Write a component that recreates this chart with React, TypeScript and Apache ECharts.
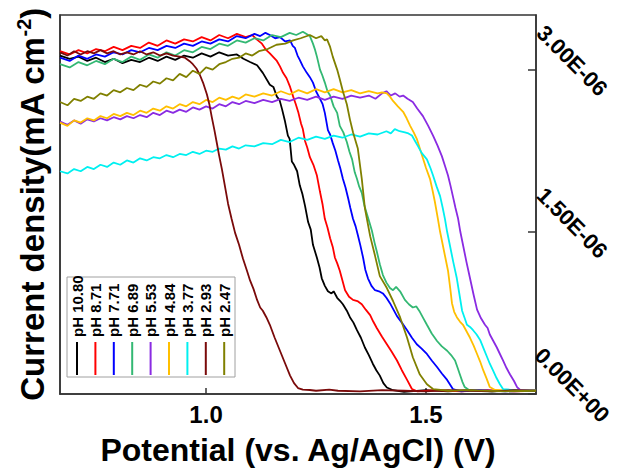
import React, { useEffect, useRef } from 'react';
import * as echarts from 'echarts';

const seriesNames = ['pH 10.80', 'pH 8.71', 'pH 7.71', 'pH 6.89', 'pH 5.53', 'pH 4.84', 'pH 3.77', 'pH 2.93', 'pH 2.47'];
const seriesColors = ['#000000', '#ff0000', '#0000ff', '#33b873', '#8a2be2', '#ffbf00', '#00f0f0', '#7a0a0a', '#808000'];

const ph1080 = [[0.668,3.13],[0.69,3.10],[0.71,3.12],[0.73,3.08],[0.75,3.11],[0.77,3.07],[0.79,3.10],[0.81,3.06],[0.83,3.09],[0.85,3.07],[0.87,3.11],[0.89,3.08],[0.91,3.12],[0.93,3.09],[0.95,3.13],[0.97,3.11],[0.99,3.15],[1.01,3.12],[1.03,3.16],[1.05,3.13],[1.07,3.14],[1.085,3.10],[1.10,3.07],[1.116,3.04],[1.129,2.97],[1.145,2.86],[1.153,2.84],[1.161,2.75],[1.167,2.72],[1.173,2.63],[1.179,2.53],[1.186,2.39],[1.19,2.36],[1.195,2.15],[1.20,2.12],[1.207,2.06],[1.213,1.93],[1.219,1.85],[1.225,1.74],[1.232,1.59],[1.238,1.52],[1.243,1.38],[1.252,1.26],[1.258,1.17],[1.263,1.07],[1.27,1.00],[1.277,0.95],[1.285,0.93],[1.29,0.95],[1.298,0.89],[1.305,0.86],[1.311,0.83],[1.32,0.77],[1.327,0.71],[1.335,0.66],[1.343,0.59],[1.352,0.52],[1.361,0.43],[1.37,0.36],[1.379,0.28],[1.387,0.22],[1.395,0.17],[1.403,0.10],[1.411,0.06],[1.425,0.035],[1.45,0.02],[1.50,0.035],[1.55,0.025],[1.60,0.035],[1.65,0.025],[1.70,0.03],[1.75,0.03]];
const ph871 = [[0.668,3.17],[0.69,3.14],[0.71,3.18],[0.73,3.15],[0.75,3.19],[0.77,3.17],[0.79,3.21],[0.81,3.18],[0.83,3.22],[0.85,3.20],[0.87,3.25],[0.89,3.22],[0.91,3.27],[0.93,3.24],[0.95,3.28],[0.97,3.26],[0.99,3.30],[1.01,3.27],[1.03,3.32],[1.05,3.29],[1.07,3.33],[1.09,3.30],[1.105,3.32],[1.115,3.28],[1.127,3.24],[1.137,3.18],[1.145,3.15],[1.161,3.08],[1.168,3.03],[1.175,2.97],[1.183,2.92],[1.191,2.84],[1.198,2.75],[1.204,2.68],[1.21,2.60],[1.216,2.50],[1.22,2.45],[1.225,2.34],[1.23,2.28],[1.236,2.19],[1.244,2.12],[1.252,2.02],[1.259,1.87],[1.265,1.75],[1.270,1.62],[1.276,1.54],[1.282,1.44],[1.288,1.36],[1.293,1.26],[1.298,1.21],[1.304,1.14],[1.31,1.05],[1.316,0.96],[1.325,0.90],[1.334,0.87],[1.344,0.86],[1.354,0.83],[1.363,0.78],[1.373,0.73],[1.38,0.67],[1.388,0.61],[1.40,0.53],[1.411,0.46],[1.422,0.39],[1.434,0.31],[1.445,0.22],[1.457,0.13],[1.468,0.046],[1.48,0.025],[1.52,0.035],[1.58,0.025],[1.64,0.035],[1.70,0.025],[1.75,0.03]];
const ph771 = [[0.668,3.11],[0.69,3.08],[0.71,3.13],[0.73,3.10],[0.75,3.14],[0.77,3.12],[0.79,3.16],[0.81,3.14],[0.83,3.18],[0.85,3.16],[0.87,3.20],[0.89,3.18],[0.91,3.22],[0.93,3.20],[0.95,3.24],[0.97,3.22],[0.99,3.26],[1.01,3.24],[1.03,3.28],[1.05,3.26],[1.07,3.31],[1.09,3.29],[1.11,3.33],[1.123,3.31],[1.135,3.34],[1.145,3.32],[1.157,3.29],[1.168,3.30],[1.18,3.26],[1.191,3.27],[1.197,3.22],[1.202,3.20],[1.208,3.13],[1.213,3.09],[1.22,3.03],[1.229,2.97],[1.236,2.93],[1.243,2.88],[1.25,2.80],[1.259,2.73],[1.265,2.68],[1.270,2.60],[1.277,2.44],[1.282,2.40],[1.288,2.32],[1.294,2.25],[1.300,2.16],[1.305,2.09],[1.311,1.99],[1.317,1.91],[1.323,1.81],[1.328,1.72],[1.334,1.62],[1.34,1.55],[1.345,1.47],[1.351,1.37],[1.357,1.26],[1.362,1.15],[1.368,1.07],[1.376,1.00],[1.384,0.96],[1.393,0.95],[1.402,0.93],[1.41,0.89],[1.418,0.84],[1.426,0.78],[1.434,0.72],[1.445,0.66],[1.457,0.59],[1.468,0.52],[1.479,0.46],[1.49,0.42],[1.502,0.37],[1.513,0.31],[1.525,0.25],[1.536,0.19],[1.548,0.13],[1.561,0.046],[1.58,0.025],[1.62,0.035],[1.68,0.025],[1.75,0.03]];
const ph689 = [[0.668,3.05],[0.69,3.02],[0.71,3.07],[0.73,3.04],[0.75,3.08],[0.77,3.05],[0.79,3.10],[0.81,3.07],[0.83,3.12],[0.85,3.09],[0.87,3.14],[0.89,3.11],[0.91,3.16],[0.93,3.13],[0.95,3.18],[0.97,3.16],[0.99,3.21],[1.01,3.19],[1.03,3.24],[1.05,3.22],[1.07,3.27],[1.09,3.25],[1.11,3.29],[1.13,3.27],[1.15,3.32],[1.17,3.30],[1.19,3.34],[1.205,3.32],[1.22,3.35],[1.236,3.31],[1.243,3.24],[1.248,3.18],[1.252,3.12],[1.259,3.00],[1.264,2.95],[1.270,2.88],[1.276,2.80],[1.282,2.76],[1.29,2.66],[1.298,2.60],[1.304,2.48],[1.312,2.42],[1.320,2.33],[1.326,2.24],[1.332,2.17],[1.338,2.05],[1.343,1.99],[1.348,1.92],[1.354,1.86],[1.36,1.74],[1.366,1.66],[1.372,1.58],[1.377,1.51],[1.383,1.40],[1.388,1.32],[1.395,1.20],[1.402,1.10],[1.41,1.03],[1.418,0.98],[1.425,0.96],[1.432,0.99],[1.441,0.95],[1.452,0.87],[1.461,0.83],[1.470,0.80],[1.478,0.81],[1.486,0.76],[1.494,0.70],[1.502,0.64],[1.513,0.56],[1.525,0.49],[1.536,0.44],[1.548,0.40],[1.557,0.36],[1.566,0.31],[1.572,0.24],[1.577,0.18],[1.583,0.11],[1.588,0.064],[1.60,0.03],[1.65,0.025],[1.70,0.035],[1.75,0.03]];
const ph553 = [[0.668,2.52],[0.685,2.49],[0.70,2.53],[0.715,2.50],[0.73,2.54],[0.745,2.52],[0.76,2.55],[0.775,2.53],[0.79,2.56],[0.805,2.54],[0.82,2.57],[0.835,2.55],[0.85,2.58],[0.865,2.56],[0.88,2.60],[0.895,2.58],[0.91,2.62],[0.925,2.60],[0.94,2.63],[0.955,2.61],[0.97,2.65],[0.985,2.63],[1.00,2.66],[1.015,2.64],[1.03,2.68],[1.045,2.66],[1.06,2.70],[1.075,2.68],[1.09,2.71],[1.11,2.69],[1.13,2.72],[1.15,2.70],[1.17,2.73],[1.19,2.71],[1.21,2.74],[1.23,2.72],[1.25,2.75],[1.27,2.72],[1.29,2.75],[1.31,2.73],[1.33,2.76],[1.35,2.74],[1.37,2.76],[1.385,2.73],[1.40,2.78],[1.41,2.80],[1.42,2.76],[1.43,2.78],[1.44,2.75],[1.448,2.76],[1.458,2.73],[1.470,2.70],[1.48,2.64],[1.493,2.57],[1.505,2.48],[1.516,2.39],[1.526,2.30],[1.536,2.20],[1.543,2.11],[1.550,2.02],[1.556,1.92],[1.561,1.83],[1.567,1.72],[1.573,1.62],[1.578,1.50],[1.584,1.38],[1.592,1.22],[1.600,1.07],[1.608,0.92],[1.616,0.78],[1.625,0.70],[1.634,0.64],[1.64,0.61],[1.645,0.55],[1.653,0.49],[1.661,0.43],[1.668,0.37],[1.675,0.31],[1.683,0.24],[1.691,0.18],[1.70,0.12],[1.707,0.064],[1.714,0.037],[1.75,0.03]];
const ph484 = [[0.668,2.51],[0.685,2.48],[0.70,2.53],[0.715,2.51],[0.73,2.55],[0.745,2.53],[0.76,2.57],[0.775,2.55],[0.79,2.59],[0.805,2.57],[0.82,2.60],[0.835,2.58],[0.85,2.62],[0.865,2.60],[0.88,2.64],[0.895,2.62],[0.91,2.66],[0.925,2.64],[0.94,2.68],[0.955,2.66],[0.97,2.70],[0.985,2.68],[1.00,2.72],[1.015,2.70],[1.03,2.74],[1.045,2.72],[1.06,2.75],[1.075,2.73],[1.09,2.77],[1.11,2.75],[1.13,2.78],[1.15,2.76],[1.17,2.80],[1.19,2.77],[1.21,2.81],[1.23,2.78],[1.25,2.82],[1.27,2.79],[1.29,2.82],[1.31,2.79],[1.33,2.81],[1.35,2.78],[1.37,2.80],[1.39,2.78],[1.40,2.79],[1.411,2.78],[1.418,2.75],[1.425,2.71],[1.436,2.66],[1.448,2.61],[1.456,2.55],[1.464,2.48],[1.472,2.42],[1.479,2.36],[1.486,2.27],[1.493,2.18],[1.50,2.09],[1.509,1.99],[1.515,1.88],[1.520,1.78],[1.527,1.62],[1.532,1.50],[1.538,1.38],[1.544,1.26],[1.550,1.14],[1.555,0.98],[1.559,0.84],[1.564,0.76],[1.570,0.71],[1.577,0.67],[1.584,0.64],[1.592,0.58],[1.600,0.52],[1.608,0.45],[1.616,0.37],[1.623,0.30],[1.630,0.22],[1.638,0.14],[1.645,0.064],[1.657,0.037],[1.70,0.03],[1.75,0.03]];
const ph377 = [[0.668,2.06],[0.685,2.04],[0.70,2.08],[0.715,2.06],[0.73,2.10],[0.745,2.08],[0.76,2.12],[0.775,2.10],[0.79,2.14],[0.805,2.12],[0.82,2.16],[0.835,2.14],[0.85,2.18],[0.865,2.16],[0.88,2.19],[0.895,2.18],[0.91,2.21],[0.925,2.19],[0.94,2.22],[0.955,2.21],[0.97,2.24],[0.985,2.22],[1.00,2.25],[1.015,2.24],[1.03,2.27],[1.045,2.26],[1.06,2.29],[1.075,2.27],[1.09,2.30],[1.11,2.29],[1.13,2.32],[1.15,2.31],[1.17,2.35],[1.19,2.33],[1.21,2.37],[1.23,2.35],[1.25,2.38],[1.27,2.36],[1.29,2.39],[1.31,2.37],[1.33,2.40],[1.35,2.38],[1.37,2.41],[1.39,2.40],[1.41,2.43],[1.42,2.41],[1.429,2.45],[1.44,2.43],[1.452,2.42],[1.46,2.41],[1.468,2.39],[1.475,2.34],[1.482,2.29],[1.49,2.23],[1.502,2.17],[1.51,2.09],[1.516,2.02],[1.524,1.92],[1.532,1.83],[1.538,1.72],[1.543,1.62],[1.548,1.50],[1.554,1.38],[1.562,1.22],[1.570,1.07],[1.576,0.92],[1.582,0.77],[1.588,0.70],[1.593,0.64],[1.60,0.62],[1.607,0.59],[1.615,0.55],[1.623,0.50],[1.631,0.42],[1.639,0.34],[1.645,0.28],[1.652,0.22],[1.66,0.15],[1.668,0.09],[1.675,0.046],[1.714,0.03],[1.75,0.03]];
const ph293 = [[0.668,3.16],[0.685,3.13],[0.70,3.17],[0.715,3.14],[0.73,3.17],[0.745,3.15],[0.76,3.18],[0.775,3.15],[0.79,3.17],[0.805,3.14],[0.82,3.16],[0.835,3.14],[0.85,3.17],[0.865,3.14],[0.88,3.16],[0.895,3.13],[0.91,3.15],[0.925,3.13],[0.94,3.12],[0.952,3.11],[0.962,3.08],[0.970,3.05],[0.978,3.01],[0.986,2.95],[0.994,2.87],[1.002,2.77],[1.008,2.67],[1.013,2.56],[1.019,2.44],[1.025,2.31],[1.03,2.20],[1.036,2.08],[1.043,1.92],[1.050,1.76],[1.058,1.62],[1.066,1.49],[1.075,1.38],[1.084,1.25],[1.093,1.14],[1.10,1.05],[1.108,0.97],[1.116,0.87],[1.123,0.80],[1.129,0.77],[1.137,0.71],[1.145,0.64],[1.156,0.52],[1.168,0.40],[1.18,0.28],[1.191,0.17],[1.20,0.10],[1.209,0.055],[1.22,0.04],[1.236,0.037],[1.25,0.03],[1.28,0.04],[1.30,0.03],[1.35,0.025],[1.40,0.035],[1.45,0.03],[1.50,0.025],[1.55,0.035],[1.60,0.03],[1.65,0.025],[1.70,0.035],[1.75,0.03]];
const ph247 = [[0.668,2.70],[0.685,2.67],[0.70,2.73],[0.715,2.71],[0.73,2.75],[0.745,2.73],[0.76,2.78],[0.775,2.76],[0.79,2.81],[0.805,2.79],[0.82,2.83],[0.835,2.81],[0.85,2.86],[0.865,2.84],[0.88,2.89],[0.895,2.87],[0.91,2.92],[0.925,2.90],[0.94,2.96],[0.955,2.93],[0.97,2.99],[0.985,2.96],[1.00,3.02],[1.015,3.00],[1.03,3.05],[1.045,3.07],[1.06,3.10],[1.075,3.11],[1.09,3.15],[1.105,3.13],[1.12,3.17],[1.14,3.19],[1.16,3.23],[1.18,3.24],[1.198,3.27],[1.215,3.29],[1.236,3.32],[1.25,3.29],[1.262,3.31],[1.27,3.27],[1.275,3.28],[1.282,3.21],[1.288,3.12],[1.298,3.00],[1.304,2.91],[1.311,2.80],[1.320,2.68],[1.327,2.54],[1.334,2.42],[1.345,2.27],[1.354,1.99],[1.361,1.72],[1.373,1.46],[1.384,1.28],[1.395,1.09],[1.411,0.98],[1.425,0.86],[1.441,0.71],[1.457,0.52],[1.470,0.34],[1.486,0.18],[1.502,0.09],[1.516,0.046],[1.55,0.03],[1.60,0.035],[1.68,0.025],[1.75,0.03]];

const seriesData = [ph1080, ph871, ph771, ph689, ph553, ph484, ph377, ph293, ph247];

const xMin = 0.668;
const xMax = 1.75;
const xTickValues = [1.0, 1.5];
const xTickLabels = ['1.0', '1.5'];
const yMin = 0;
const yMax = 3.505;
const yTickValues = [0, 1.5, 3.0];
const yTickLabels = ['0.00E+00', '1.50E-06', '3.00E-06'];

const FONT = 'Liberation Sans, Arial, Helvetica, sans-serif';

export default function App() {
  const ref = useRef<HTMLDivElement>(null);
  useEffect(() => {
    if (!ref.current) return;
    const chart = echarts.init(ref.current, null, { renderer: 'svg' });
    const pick = (vals: number[], labels: string[]) => (v: number) => {
      const i = vals.findIndex((t) => Math.abs(t - v) < 1e-6);
      return i >= 0 ? labels[i] : '';
    };
    const step = 18.4;
    const legendChildren: any[] = [
      { type: 'rect', shape: { x: 0, y: 0, width: 168, height: 100 }, style: { fill: '#fff', stroke: '#a0a0a0', lineWidth: 1 } },
    ];
    seriesNames.forEach((name, i) => {
      const cx = 10 + i * step;
      legendChildren.push({ type: 'line', shape: { x1: cx, y1: 65, x2: cx, y2: 98 }, style: { stroke: seriesColors[i], lineWidth: 2 } });
      legendChildren.push({
        type: 'text', x: cx, y: 60, rotation: Math.PI / 2,
        style: { text: name, fontSize: 15, fontWeight: 'bold', fontFamily: FONT, fill: '#000', align: 'left', verticalAlign: 'middle' },
      });
    });
    chart.setOption({
      animation: false,
      backgroundColor: '#fff',
      grid: { left: 60, right: 83, top: 15, bottom: 74, show: true, borderColor: '#333', borderWidth: 1.5, backgroundColor: 'transparent' },
      xAxis: {
        type: 'value', min: xMin, max: xMax,
        name: 'Potential (vs. Ag/AgCl) (V)', nameLocation: 'middle', nameGap: 40,
        nameTextStyle: { fontSize: 32, fontWeight: 'bold', fontFamily: FONT, color: '#000' },
        axisLine: { show: true, lineStyle: { color: '#333', width: 1.5 } },
        axisTick: { show: true, inside: true, length: 6, customValues: xTickValues, lineStyle: { color: '#333', width: 1.5 } },
        axisLabel: { customValues: xTickValues, formatter: pick(xTickValues, xTickLabels), fontSize: 24, fontWeight: 'bold', fontFamily: FONT, color: '#000', margin: 8 },
        splitLine: { show: false },
      },
      yAxis: [
        {
          type: 'value', min: yMin, max: yMax, position: 'right',
          axisLine: { show: true, lineStyle: { color: '#333', width: 1.5 } },
          axisTick: { show: true, inside: true, length: 8, customValues: yTickValues, lineStyle: { color: '#333', width: 1.5 } },
          axisLabel: {
            customValues: yTickValues, formatter: pick(yTickValues, yTickLabels), rotate: -45, align: 'center', verticalAlign: 'middle',
            margin: 45, padding: [0, 25, 25, 0], fontSize: 22, fontWeight: 'bold', fontFamily: FONT, color: '#000',
          },
          splitLine: { show: false },
        },
        {
          type: 'value', min: yMin, max: yMax, position: 'left',
          name: '{a|Current density(mA cm}{b|-2}{a|)}', nameLocation: 'middle', nameGap: 10, nameRotate: 90,
          nameTextStyle: {
            rich: {
              a: { fontSize: 33, fontWeight: 'bold', fontFamily: FONT, color: '#000', lineHeight: 36, verticalAlign: 'middle' },
              b: { fontSize: 20, fontWeight: 'bold', fontFamily: FONT, color: '#000', lineHeight: 23, verticalAlign: 'top' },
            },
          },
          axisLine: { show: true, lineStyle: { color: '#333', width: 1.5 } },
          axisTick: { show: false },
          axisLabel: { show: false },
          splitLine: { show: false },
        },
      ],
      series: seriesNames.map((name, i) => ({
        name, type: 'line', data: seriesData[i], showSymbol: false, symbol: 'none',
        lineStyle: { color: seriesColors[i], width: 1.8 }, itemStyle: { color: seriesColors[i] }, z: 2 + i,
      })),
      graphic: [{ type: 'group', x: 67, y: 277, z: 100, children: legendChildren }],
    });
    return () => chart.dispose();
  }, []);
  return <div ref={ref} style={{ position: 'fixed', left: 0, top: 0, width: 619, height: 471 }} />;
}
